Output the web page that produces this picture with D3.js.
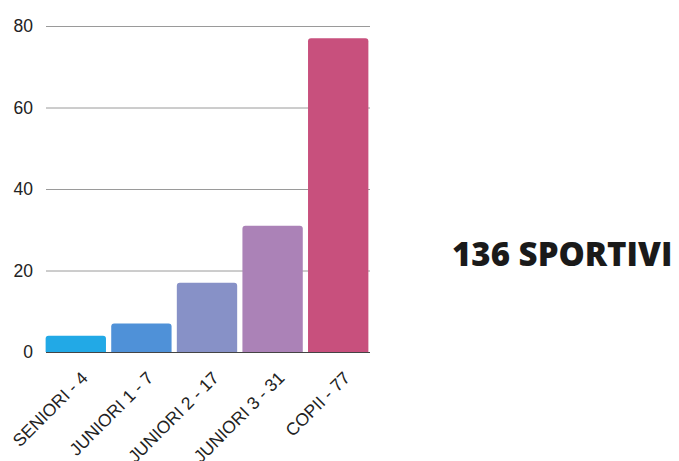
<!DOCTYPE html>
<html>
<head>
<meta charset="utf-8">
<script src="https://cdn.jsdelivr.net/npm/d3@7"></script>
<style>
  html, body { margin: 0; padding: 0; background: #ffffff; }
  svg { display: block; }
</style>
</head>
<body>
<svg id="chart" width="679" height="461"></svg>
<script>
const categories = ["SENIORI - 4", "JUNIORI 1 - 7", "JUNIORI 2 - 17", "JUNIORI 3 - 31", "COPII - 77"];
const values = [4, 7, 17, 31, 77];
const barColors = ["#22a9e6", "#4f91d8", "#8791c7", "#ab82b7", "#c8507d"];
const yTicks = [0, 20, 40, 60, 80];
const totalLabel = "136 SPORTIVI";

const svg = d3.select("#chart");

const x = d3.scaleBand().domain(categories).range([43, 371]).paddingInner(0.08).paddingOuter(0.04);
const y = d3.scaleLinear().domain([0, 80]).range([352, 26]);

// gridlines
svg.append("g")
  .selectAll("line")
  .data(yTicks)
  .join("line")
  .attr("x1", 46).attr("x2", 370)
  .attr("y1", d => y(d) + 0.5).attr("y2", d => y(d) + 0.5)
  .attr("stroke", d => d === 0 ? "#444" : "#9a9a9a")
  .attr("stroke-width", 1);

// y labels
svg.append("g")
  .selectAll("text")
  .data(yTicks)
  .join("text")
  .attr("x", 33)
  .attr("y", d => y(d))
  .attr("dy", "0.36em")
  .attr("text-anchor", "end")
  .attr("font-family", "Liberation Sans, Arial, sans-serif")
  .attr("font-size", 17.5)
  .attr("fill", "#222")
  .text(d => d);

// bars with rounded top corners
function barPath(x0, w, yTop, yBot, r) {
  r = Math.min(r, (yBot - yTop), w / 2);
  return `M${x0},${yBot} L${x0},${yTop + r} Q${x0},${yTop} ${x0 + r},${yTop} L${x0 + w - r},${yTop} Q${x0 + w},${yTop} ${x0 + w},${yTop + r} L${x0 + w},${yBot} Z`;
}

svg.append("g")
  .selectAll("path")
  .data(categories)
  .join("path")
  .attr("d", (c, i) => barPath(x(c), x.bandwidth(), y(values[i]), y(0), 3))
  .attr("fill", (c, i) => barColors[i]);

// x labels rotated
svg.append("g")
  .selectAll("text")
  .data(categories)
  .join("text")
  .attr("transform", c => `translate(${x(c) + x.bandwidth() / 2 + 13},${379}) rotate(-45)`)
  .attr("text-anchor", "end")
  .attr("font-family", "Liberation Sans, Arial, sans-serif")
  .attr("font-size", 17.5)
  .attr("fill", "#222")
  .text(c => c);

// total label
svg.append("text")
  .attr("x", 452)
  .attr("y", 266)
  .attr("font-family", "Open Sans, sans-serif")
  .attr("font-weight", 800)
  .attr("font-size", 33)
  .attr("fill", "#1a1a1a")
  .text(totalLabel);
</script>
</body>
</html>
